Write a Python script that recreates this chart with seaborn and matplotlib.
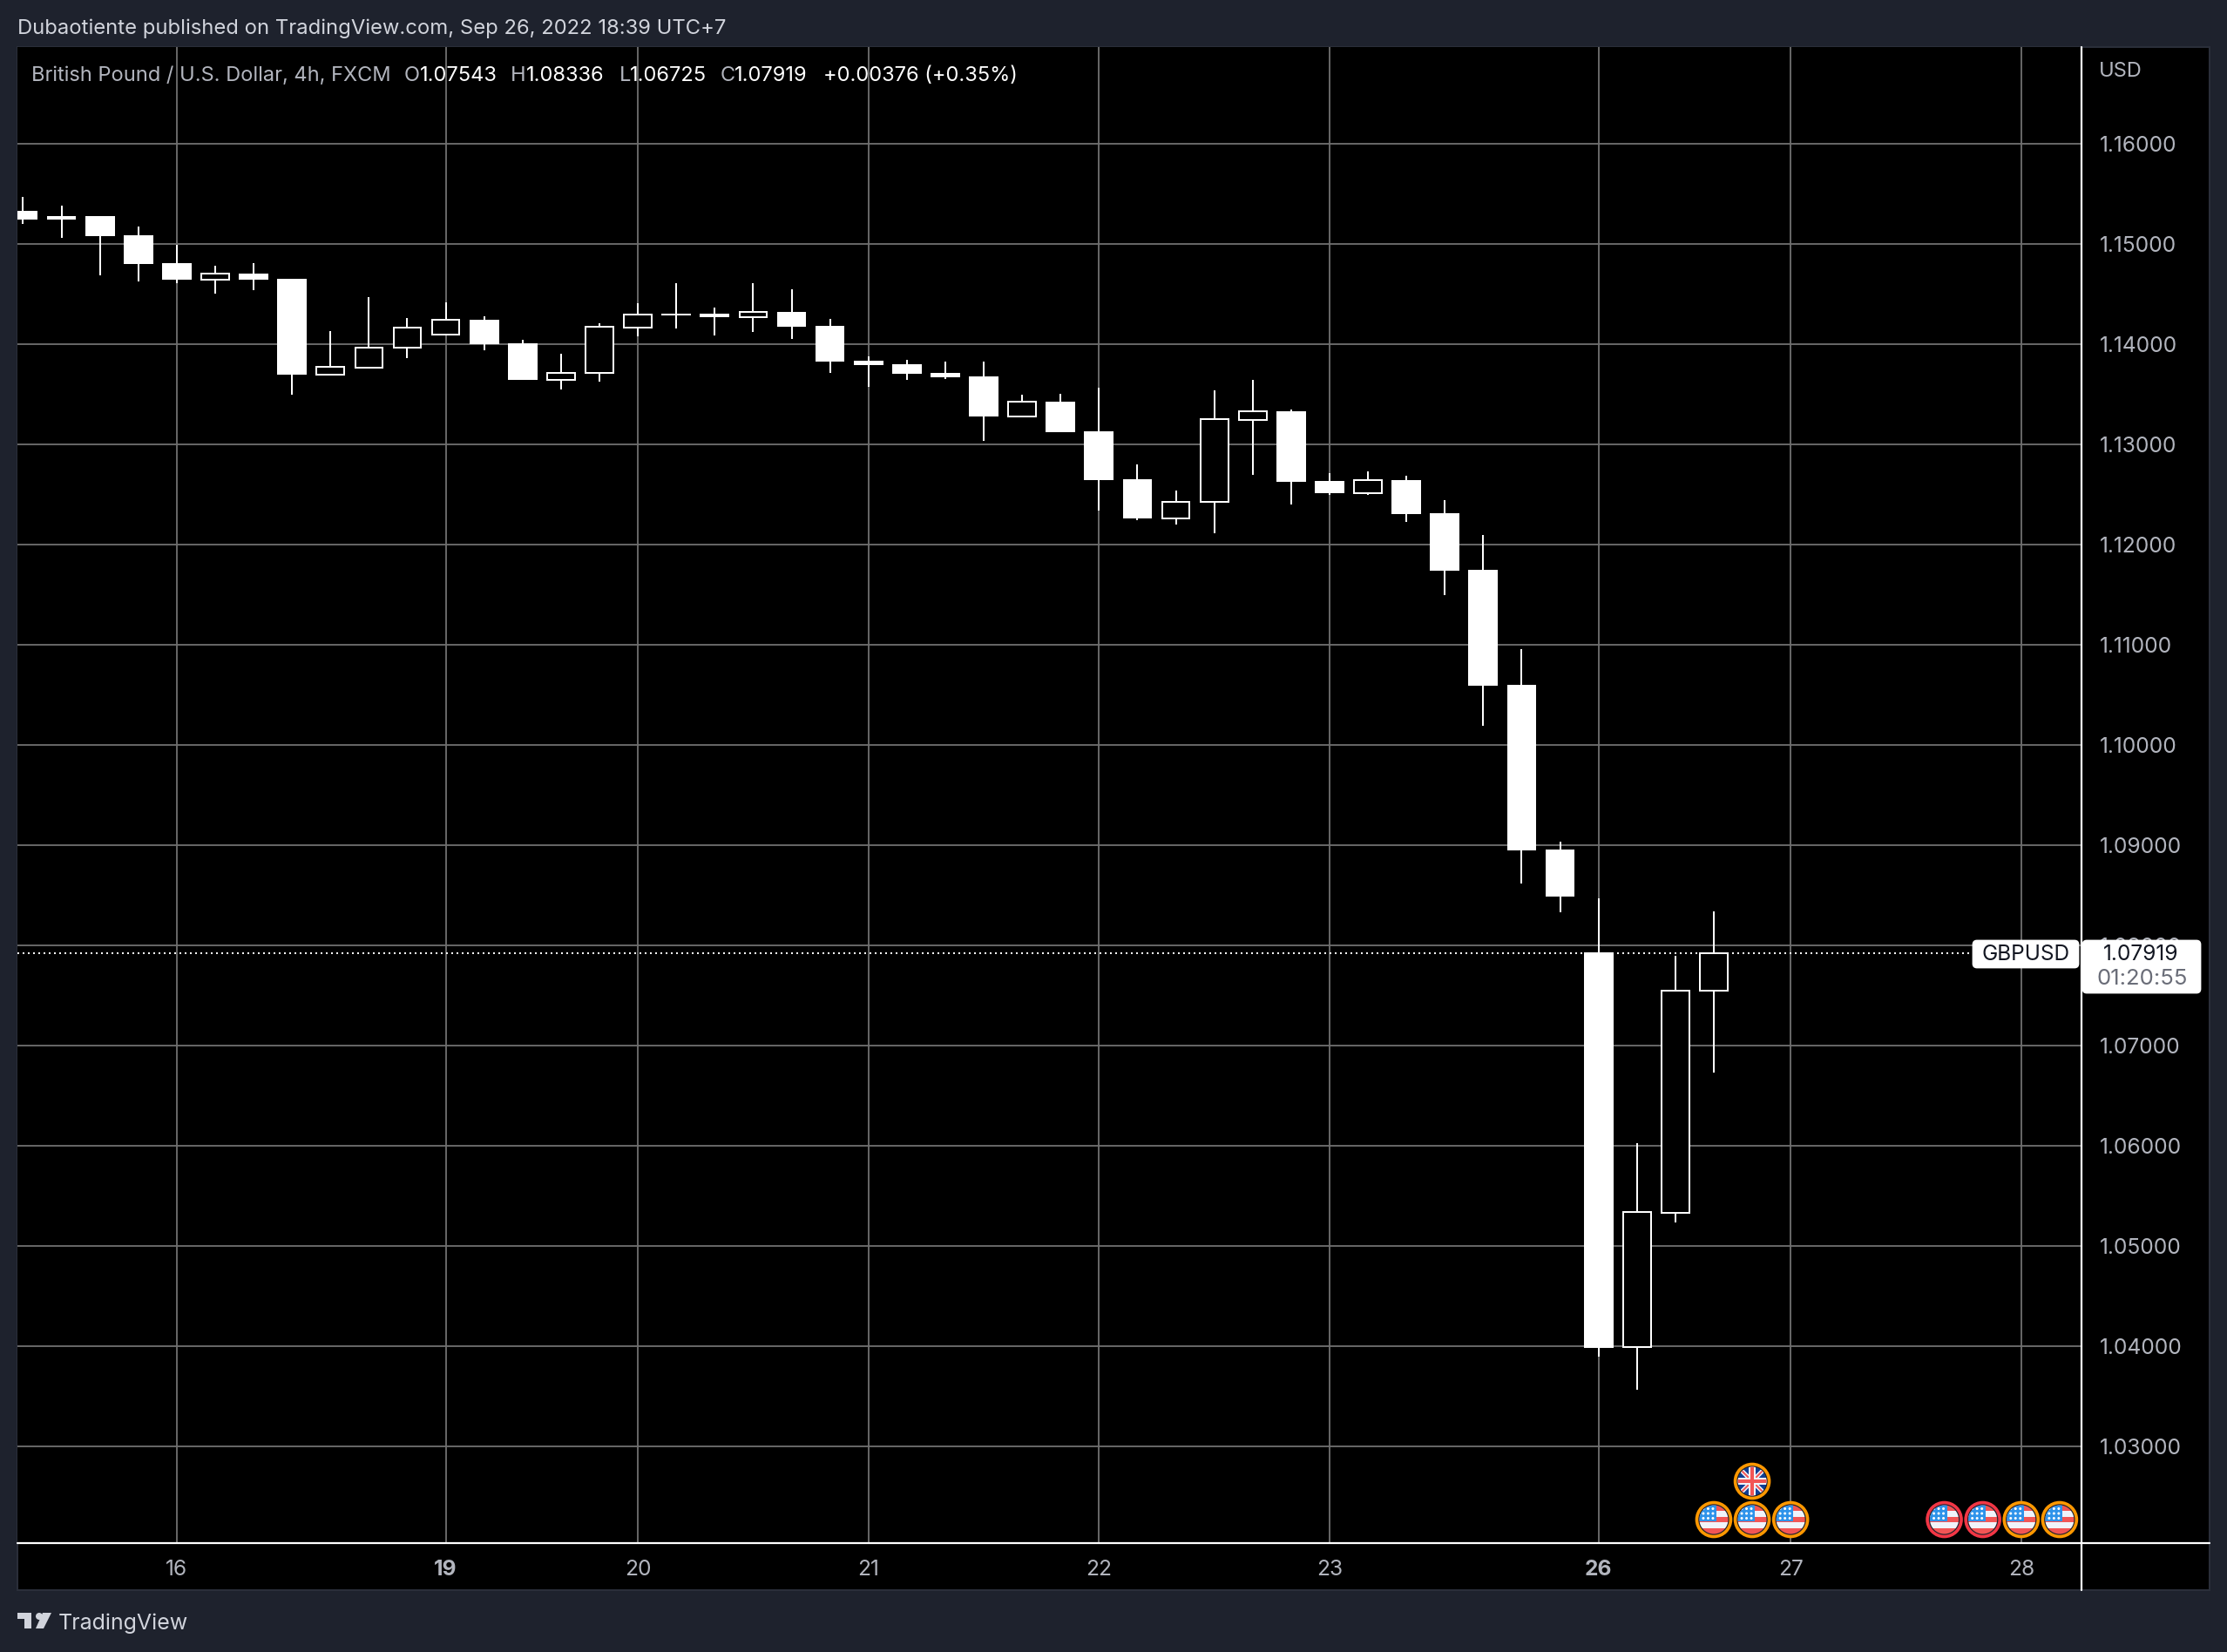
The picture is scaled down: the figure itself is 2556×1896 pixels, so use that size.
import pandas as pd
import seaborn as sns
import matplotlib.pyplot as plt
from matplotlib.patches import Circle, FancyBboxPatch, Polygon, Rectangle

# GBPUSD 4h candles
opens = [1.15328, 1.15275, 1.15275, 1.15084, 1.14806, 1.14643, 1.14701, 1.14649, 1.13696,
         1.13765, 1.13959, 1.14090, 1.14241, 1.14006, 1.13643, 1.13707, 1.14165, 1.14301,
         1.14301, 1.14270, 1.14316, 1.14180, 1.13832, 1.13797, 1.13710, 1.13675, 1.13278,
         1.13422, 1.13127, 1.12650, 1.12262, 1.12421, 1.13244, 1.13329, 1.12634, 1.12514,
         1.12642, 1.12312, 1.11745, 1.10596, 1.08954, 1.07930, 1.03986, 1.05331, 1.07543]
highs = [1.15467, 1.15380, 1.15275, 1.15171, 1.14988, 1.14780, 1.14806, 1.14649, 1.14128,
         1.14467, 1.14258, 1.14414, 1.14272, 1.14041, 1.13901, 1.14206, 1.14406, 1.14606,
         1.14362, 1.14606, 1.14545, 1.14249, 1.13872, 1.13838, 1.13823, 1.13823, 1.13496,
         1.13504, 1.13562, 1.12797, 1.12537, 1.13535, 1.13640, 1.13345, 1.12712, 1.12728,
         1.12685, 1.12440, 1.12095, 1.10953, 1.09032, 1.08470, 1.06020, 1.07895, 1.08336]
lows = [1.15200, 1.15061, 1.14687, 1.14626, 1.14606, 1.14504, 1.14539, 1.13496, 1.13696,
        1.13757, 1.13861, 1.14090, 1.13939, 1.13643, 1.13548, 1.13626, 1.14075, 1.14157,
        1.14084, 1.14119, 1.14049, 1.13713, 1.13571, 1.13641, 1.13649, 1.13032, 1.13272,
        1.13120, 1.12335, 1.12242, 1.12200, 1.12110, 1.12693, 1.12398, 1.12495, 1.12495,
        1.12223, 1.11493, 1.10189, 1.08617, 1.08329, 1.03897, 1.03563, 1.05228, 1.06725]
closes = [1.15243, 1.15243, 1.15078, 1.14800, 1.14643, 1.14701, 1.14643, 1.13693, 1.13768,
          1.13959, 1.14159, 1.14238, 1.13997, 1.13643, 1.13707, 1.14168, 1.14290, 1.14284,
          1.14267, 1.14316, 1.14171, 1.13823, 1.13788, 1.13704, 1.13667, 1.13275, 1.13420,
          1.13120, 1.12642, 1.12258, 1.12421, 1.13248, 1.13325, 1.12623, 1.12510, 1.12638,
          1.12300, 1.11738, 1.10589, 1.08946, 1.08484, 1.03982, 1.05335, 1.07543, 1.07919]

day_positions = [4, 11, 16, 22, 28, 34, 41, 46, 52]
day_labels = ['16', '19', '20', '21', '22', '23', '26', '27', '28']
bold_days = ['19', '26']
price_ticks = [1.03, 1.04, 1.05, 1.06, 1.07, 1.08, 1.09, 1.10, 1.11, 1.12, 1.13, 1.14, 1.15, 1.16]

us_events = [44, 45, 46, 50, 51, 52, 53]
us_event_rings = ['#FF9800', '#FF9800', '#FF9800', '#F23645', '#F23645', '#FF9800', '#FF9800']
uk_events = [45]
uk_event_rings = ['#FF9800']

BG = '#1E222D'
GRID = '#707070'
TEXT = '#B2B5BE'
FONT = 'Inter'

sns.set_theme(style="dark")
plt.rcParams['font.family'] = [FONT, 'DejaVu Sans']

fig = plt.figure(figsize=(25.56, 18.96), dpi=100, facecolor=BG)

# main pane, 20..2389 x 54..1771 in picture pixels
ax = fig.add_axes([20 / 2556, 1 - 1771 / 1896, 2369 / 2556, 1717 / 1896], zorder=2)
ax.set_facecolor('black')

df = pd.DataFrame({'idx': range(len(opens)), 'open': opens, 'high': highs, 'low': lows, 'close': closes})
df['top'] = df[['open', 'close']].max(axis=1)
df['bottom'] = df[['open', 'close']].min(axis=1)
df['body'] = df['top'] - df['bottom']

wicks = df.melt(id_vars='idx', value_vars=['low', 'high'], value_name='price')
sns.lineplot(data=wicks, x='idx', y='price', units='idx', estimator=None, color='white',
             linewidth=1.44, solid_capstyle='butt', ax=ax, zorder=3, legend=False)

down = df[df['close'] < df['open']]
up = df[df['close'] >= df['open']]
sns.barplot(x=down['idx'].to_numpy(), y=down['body'].to_numpy(), bottom=down['bottom'].to_numpy(),
            native_scale=True, width=0.765, color='white', saturation=1, linewidth=0,
            errorbar=None, ax=ax, zorder=4)
sns.barplot(x=up['idx'].to_numpy(), y=up['body'].to_numpy(), bottom=up['bottom'].to_numpy(),
            native_scale=True, width=0.72, color='black', saturation=1, edgecolor='white',
            linewidth=1.44, errorbar=None, ax=ax, zorder=4)

last_close = closes[-1]
ax.axhline(last_close, color='white', linewidth=1.44, linestyle=(0, (1, 2)), zorder=2.5)

ax.set_xlim(-0.147, 53.57)
ax.set_ylim(1.02032, 1.16963)
ax.set_xticks(day_positions)
ax.set_xticklabels(day_labels, fontsize=17.7, color=TEXT)
for lab in ax.get_xticklabels():
    if lab.get_text() in bold_days:
        lab.set_fontweight('bold')
ax.yaxis.tick_right()
ax.set_yticks(price_ticks)
ax.set_yticklabels([f'{p:.5f}' for p in price_ticks], fontsize=17.7, color=TEXT)
for lab in ax.get_yticklabels():
    lab.set_verticalalignment('center_baseline')
ax.tick_params(axis='y', length=0, pad=15)
ax.tick_params(axis='x', length=0, pad=14)
ax.set_xlabel('')
ax.set_ylabel('')
ax.grid(True, color=GRID, linewidth=1.3)
ax.set_axisbelow(True)
sns.despine(ax=ax, left=True, right=True, top=True, bottom=True)

# overlay in picture pixels for the chrome around the pane
ov = fig.add_axes([0, 0, 1, 1], zorder=5)
ov.set_xlim(0, 2556)
ov.set_ylim(1896, 0)
ov.axis('off')

# black backing of the axis strips sits below everything else
back = fig.add_axes([0, 0, 1, 1], zorder=1)
back.set_xlim(0, 2556)
back.set_ylim(1896, 0)
back.axis('off')
back.add_patch(Rectangle((20, 54), 2516, 1771, facecolor='black', edgecolor='#2A2E39', linewidth=1.5))

ov.plot([20, 2536], [1771, 1771], color='white', linewidth=1.6)
ov.plot([2389, 2389], [54, 1825], color='white', linewidth=1.6)

ov.text(20, 33, 'Dubaotiente published on TradingView.com, Sep 26, 2022 18:39 UTC+7',
        color='#D1D4DC', fontsize=17.15, va='center')
ov.text(36, 87, 'British Pound / U.S. Dollar, 4h, FXCM', color=TEXT, fontsize=17, va='center')
ohlc_parts = [(464, 'O', TEXT), (482, '1.07543', 'white'), (586, 'H', TEXT), (604, '1.08336', 'white'),
              (711, 'L', TEXT), (723, '1.06725', 'white'), (827, 'C', TEXT), (843, '1.07919', 'white'),
              (945, '+0.00376 (+0.35%)', 'white')]
for px, s, c in ohlc_parts:
    ov.text(px, 87, s, color=c, fontsize=17, va='center')
ov.text(2409, 82, 'USD', color=TEXT, fontsize=17, va='center')

# last price tags
ov.add_patch(FancyBboxPatch((2265, 1080), 120, 30, boxstyle='round,pad=0,rounding_size=4',
                            facecolor='white', edgecolor='white', linewidth=2, zorder=6))
ov.text(2325, 1096, 'GBPUSD', color='#131722', fontsize=17.6, ha='center', va='center', zorder=7)
ov.add_patch(FancyBboxPatch((2391, 1080), 134, 59, boxstyle='round,pad=0,rounding_size=4',
                            facecolor='white', edgecolor='white', linewidth=2, zorder=6))
ov.text(2457, 1096, f'{last_close:.5f}', color='#131722', fontsize=17.7, ha='center', va='center', zorder=7)
ov.text(2459, 1124, '01:20:55', color='#6A6D78', fontsize=18.5, ha='center', va='center', zorder=7)


def flag_base(cx, cy, ring):
    ov.add_patch(Circle((cx, cy), 19.5, facecolor=BG, edgecolor=ring, linewidth=2.6, zorder=8))
    clip = Circle((cx, cy), 16.5, transform=ov.transData)
    return clip


def add_clipped(patch, clip):
    ov.add_patch(patch)
    patch.set_clip_path(clip)


def us_flag(cx, cy, ring):
    clip = flag_base(cx, cy, ring)
    left, top = cx - 17, cy - 17
    stripes = ['#F25555', '#F0F3FA', '#F25555', '#F0F3FA', '#F25555']
    for i, c in enumerate(stripes):
        add_clipped(Rectangle((left, top + i * 6.8), 34, 6.8, facecolor=c, linewidth=0, zorder=9), clip)
    add_clipped(Rectangle((left, top), 20, 19, facecolor='#2E93EA', linewidth=0, zorder=10), clip)
    for r in range(3):
        for k in range(3):
            add_clipped(Circle((left + 5 + k * 5.5, top + 4.5 + r * 5.5), 1.5, facecolor='white',
                               linewidth=0, zorder=11), clip)


def uk_flag(cx, cy, ring):
    clip = flag_base(cx, cy, ring)
    add_clipped(Circle((cx, cy), 17, facecolor='#0F3E94', linewidth=0, zorder=9), clip)
    for sign, w, c in [(1, 5, '#F0F3FA'), (-1, 5, '#F0F3FA'), (1, 2, '#F25555'), (-1, 2, '#F25555')]:
        line, = ov.plot([cx - 17, cx + 17], [cy - 17 * sign, cy + 17 * sign], color=c, linewidth=w * 0.72,
                        zorder=10, solid_capstyle='butt')
        line.set_clip_path(clip)
    add_clipped(Rectangle((cx - 4, cy - 17), 8, 34, facecolor='#F0F3FA', linewidth=0, zorder=11), clip)
    add_clipped(Rectangle((cx - 17, cy - 4), 34, 8, facecolor='#F0F3FA', linewidth=0, zorder=11), clip)
    add_clipped(Rectangle((cx - 2, cy - 17), 4, 34, facecolor='#F25555', linewidth=0, zorder=12), clip)
    add_clipped(Rectangle((cx - 17, cy - 2), 34, 4, facecolor='#F25555', linewidth=0, zorder=12), clip)


fig.canvas.draw()
for pos, ring in zip(us_events, us_event_rings):
    us_flag(ax.transData.transform((pos, 1.1))[0], 1744, ring)
for pos, ring in zip(uk_events, uk_event_rings):
    uk_flag(ax.transData.transform((pos, 1.1))[0], 1700, ring)

# TradingView mark, bottom left
LOGO = '#D1D4DC'
ov.add_patch(Polygon([(20, 1851), (36, 1851), (36, 1869), (28, 1869), (28, 1858), (20, 1858)],
                     facecolor=LOGO, linewidth=0))
ov.add_patch(Circle((45, 1855), 4, facecolor=LOGO, linewidth=0))
ov.add_patch(Polygon([(49, 1851), (59, 1851), (50, 1869), (41, 1869)], facecolor=LOGO, linewidth=0))
ov.text(67, 1863, 'TradingView', color=LOGO, fontsize=18, va='center')

fig.savefig('out.png', dpi=100, facecolor=BG)
